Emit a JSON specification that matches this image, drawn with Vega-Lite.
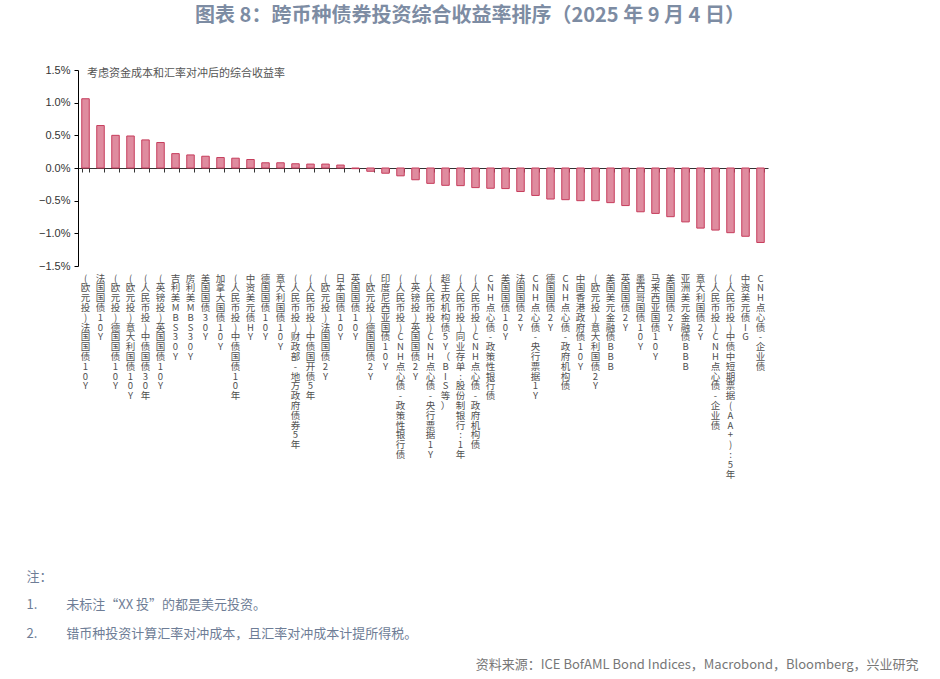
{
  "$schema": "https://vega.github.io/schema/vega-lite/v6.json",
  "width": 690,
  "height": 196,
  "padding": {"left": 26, "top": 6, "right": 5, "bottom": 5},
  "background": "white",
  "config": {"view": {"stroke": null}, "font": "Noto Sans CJK SC"},
  "title": {
    "text": "图表 8：跨币种债券投资综合收益率排序（2025 年 9 月 4 日）",
    "fontSize": 20,
    "fontWeight": "bold",
    "color": "#7d8ca3",
    "font": "Noto Sans CJK SC",
    "anchor": "middle",
    "frame": "group",
    "dx": 47,
    "offset": 38
  },
  "data": {
    "values": [
      {"name": "(欧元投)法国国债10Y", "value": 0.0106},
      {"name": "法国国债10Y", "value": 0.0065},
      {"name": "(欧元投)德国国债10Y", "value": 0.0050},
      {"name": "(欧元投)意大利国债10Y", "value": 0.0049},
      {"name": "(人民币投)中债国债30年", "value": 0.0043},
      {"name": "(英镑投)英国国债10Y", "value": 0.0039},
      {"name": "吉利美MBS 30Y", "value": 0.0022},
      {"name": "房利美MBS 30Y", "value": 0.0020},
      {"name": "美国国债30Y", "value": 0.0018},
      {"name": "加拿大国债10Y", "value": 0.0016},
      {"name": "(人民币投)中债国债10年", "value": 0.0015},
      {"name": "中资美元债HY", "value": 0.0013},
      {"name": "德国国债10Y", "value": 0.0008},
      {"name": "意大利国债10Y", "value": 0.0008},
      {"name": "(人民币投)财政部-地方政府债券5年", "value": 0.00065},
      {"name": "(人民币投)中债国开债5年", "value": 0.0006},
      {"name": "(欧元投)法国国债2Y", "value": 0.0006},
      {"name": "日本国债10Y", "value": 0.00045},
      {"name": "英国国债10Y", "value": -0.0001},
      {"name": "(欧元投)德国国债2Y", "value": -0.0005},
      {"name": "印度尼西亚国债10Y", "value": -0.0008},
      {"name": "(人民币投)CNH点心债-政策性银行债", "value": -0.0012},
      {"name": "(英镑投)英国国债2Y", "value": -0.0018},
      {"name": "(人民币投)CNH点心债-央行票据1Y", "value": -0.00235},
      {"name": "超主权机构债5Y（BIS等）", "value": -0.00265},
      {"name": "(人民币投)同业存单:股份制银行:1年", "value": -0.0027},
      {"name": "(人民币投)CNH点心债-政府机构债", "value": -0.0030},
      {"name": "CNH点心债-政策性银行债", "value": -0.0031},
      {"name": "美国国债10Y", "value": -0.00315},
      {"name": "法国国债2Y", "value": -0.0036},
      {"name": "CNH点心债-央行票据1Y", "value": -0.0042},
      {"name": "德国国债2Y", "value": -0.00475},
      {"name": "CNH点心债-政府机构债", "value": -0.00485},
      {"name": "中国香港政府债10Y", "value": -0.0050},
      {"name": "(欧元投)意大利国债2Y", "value": -0.0050},
      {"name": "美国美元金融债BBB", "value": -0.0053},
      {"name": "英国国债2Y", "value": -0.00575},
      {"name": "墨西哥国债10Y", "value": -0.0067},
      {"name": "马来西亚国债10Y", "value": -0.00695},
      {"name": "美国国债2Y", "value": -0.00745},
      {"name": "亚洲美元金融债BBB", "value": -0.00825},
      {"name": "意大利国债2Y", "value": -0.0092},
      {"name": "(人民币投)CNH点心债-企业债", "value": -0.0095},
      {"name": "(人民币投)中债中短期票据(AA+):5年", "value": -0.0099},
      {"name": "中资美元债IG", "value": -0.01045},
      {"name": "CNH点心债-企业债", "value": -0.0114}
    ]
  },
  "layer": [
    {
      "mark": {"type": "bar", "stroke": "#c63d5c", "strokeWidth": 1},
      "encoding": {
        "x": {
          "field": "name",
          "type": "nominal",
          "sort": null,
          "scale": {"paddingInner": 0.5, "paddingOuter": 0.25},
          "axis": {
            "orient": "bottom",
            "domain": false,
            "ticks": false,
            "labelAngle": 0,
            "labelAlign": "center",
            "labelBaseline": "top",
            "labelPadding": 7,
            "labelExpr": "split(datum.label, '')",
            "labelFont": "Noto Sans CJK SC",
            "labelFontSize": 9.5,
            "labelLineHeight": 9.8,
            "labelColor": "#505050",
            "labelOverlap": false,
            "labelLimit": 0,
            "title": [
              "注：",
              "1.　　 未标注“XX 投”的都是美元投资。",
              "2.　　 错币种投资计算汇率对冲成本，且汇率对冲成本计提所得税。"
            ],
            "titleFont": "Noto Sans CJK SC",
            "titleFontSize": 13,
            "titleFontWeight": "normal",
            "titleColor": "#6e7d96",
            "titleAlign": "left",
            "titleAnchor": "start",
            "titleBaseline": "top",
            "titleLineHeight": 28.8,
            "titleX": -52,
            "titleY": 304
          }
        },
        "y": {
          "field": "value",
          "type": "quantitative",
          "scale": {"domain": [-0.015, 0.015], "nice": false, "zero": false},
          "axis": {
            "values": [-0.015, -0.01, -0.005, 0, 0.005, 0.01, 0.015],
            "tickCount": 10,
            "format": ".1%",
            "grid": false,
            "labelOverlap": false,
            "labelFlush": false,
            "domainColor": "#000000",
            "tickColor": "#000000",
            "tickSize": 4,
            "labelFont": "Liberation Sans",
            "labelFontSize": 11,
            "labelColor": "#333333",
            "labelPadding": 4,
            "title": "资料来源：ICE BofAML Bond Indices，Macrobond，Bloomberg，兴业研究",
            "titleFont": "Noto Sans CJK SC",
            "titleFontSize": 13,
            "titleFontWeight": "normal",
            "titleColor": "#777777",
            "titleAngle": 0,
            "titleAlign": "right",
            "titleBaseline": "middle",
            "titleX": 840,
            "titleY": 594
          }
        },
        "color": {
          "datum": "考虑资金成本和汇率对冲后的综合收益率",
          "scale": {"range": ["#df8c9f"]},
          "legend": {
            "title": null,
            "orient": "none",
            "legendX": -2,
            "legendY": -2,
            "symbolSize": 0,
            "symbolStrokeWidth": 0,
            "symbolOpacity": 0,
            "labelOffset": 0,
            "padding": 0,
            "labelFont": "Noto Sans CJK SC",
            "labelFontSize": 11,
            "labelColor": "#555555",
            "labelLimit": 0
          }
        }
      }
    },
    {
      "mark": {"type": "point", "opacity": 0},
      "encoding": {
        "x": {
          "field": "name",
          "type": "nominal",
          "sort": null,
          "axis": {
            "orient": "bottom",
            "offset": -98,
            "labels": false,
            "domain": true,
            "domainColor": "#333333",
            "domainWidth": 1.2,
            "ticks": true,
            "tickBand": "extent",
            "tickSize": 4,
            "tickColor": "#333333",
            "title": null
          }
        },
        "y": {"field": "value", "type": "quantitative"}
      }
    }
  ],
  "resolve": {"axis": {"x": "independent"}}
}
